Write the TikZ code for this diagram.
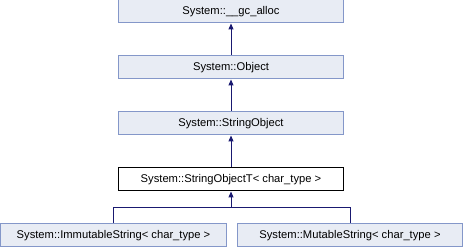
\documentclass[tikz,border=0pt]{standalone}
\usepackage{fontspec}
\setmainfont{Liberation Sans}
\usetikzlibrary{arrows.meta}
\definecolor{boxfill}{RGB}{232,236,244}
\definecolor{boxline}{RGB}{132,151,201}
\definecolor{edgecol}{RGB}{25,25,112}
\begin{document}
\begin{tikzpicture}[x=1pt,y=-1pt,
  cls/.style={draw=boxline,fill=boxfill,line width=1pt,minimum height=23pt,
    inner sep=0pt,font=\fontsize{11.2}{13}\selectfont,anchor=center},
  cur/.style={cls,draw=black,fill=white},
  inh/.style={draw=edgecol,line width=1pt,{Triangle[length=6pt,width=5pt]}-}]
\useasboundingbox (0,0) rectangle (464,248);
\node[cls,minimum width=225pt] (gc) at (231,11.5) {System::\_\_gc\_alloc};
\node[cls,minimum width=225pt] (obj) at (231,67.5) {System::Object};
\node[cls,minimum width=225pt] (so) at (231,123.5) {System::StringObject};
\node[cur,minimum width=225pt] (sot) at (231,179.5) {System::StringObjectT< char\_type >};
\node[cls,minimum width=226pt] (imm) at (113.5,235.5) {System::ImmutableString< char\_type >};
\node[cls,minimum width=225pt] (mut) at (350,235.5) {System::MutableString< char\_type >};
\coordinate (split) at (231,208);
\draw[inh] (gc) -- (obj);
\draw[inh] (obj) -- (so);
\draw[inh] (so) -- (sot);
\draw[inh] (sot.south) -- (split) -| (imm.north);
\draw[draw=edgecol,line width=1pt] (split) -| (mut.north);
\end{tikzpicture}
\end{document}
